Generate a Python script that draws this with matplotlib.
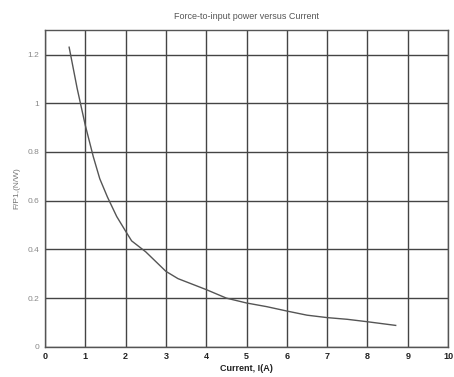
import matplotlib
matplotlib.use("Agg")
import matplotlib.pyplot as plt

# values
current = [0.6, 0.8, 1.0, 1.2, 1.36, 1.55, 1.78, 2.0, 2.15, 2.5, 3.0, 3.3, 4.0, 4.5, 5.0, 5.5,
           6.0, 6.5, 7.0, 7.5, 8.0, 8.7]
force_per_power = [1.23, 1.06, 0.91, 0.78, 0.69, 0.615, 0.535, 0.475, 0.435, 0.39, 0.31, 0.28,
                   0.235, 0.20, 0.18, 0.165, 0.147, 0.13, 0.12, 0.113, 0.103, 0.088]
x_ticks = list(range(0, 11))
y_ticks = [0, 0.2, 0.4, 0.6, 0.8, 1, 1.2]
y_tick_labels = ["0", "0.2", "0.4", "0.6", "0.8", "1", "1.2"]

plt.rcParams['font.family'] = ['Liberation Sans', 'DejaVu Sans']

fig = plt.figure(figsize=(4.54, 3.77), dpi=100)
ax = fig.add_axes([0.099, 0.080, 0.888, 0.840])

ax.plot(current, force_per_power, color='#555555', linewidth=1.0)

ax.set_xlim(0, 10)
ax.set_ylim(0, 1.3)
ax.set_xticks(x_ticks)
ax.set_xticklabels([str(t) for t in x_ticks], fontsize=6.5, fontweight='bold', color='#222222')
ax.set_yticks(y_ticks)
ax.set_yticklabels(y_tick_labels, fontsize=6, color='#888888')
ax.tick_params(length=0, pad=4)

ax.grid(True, color='#444444', linewidth=1.0)
for s in ax.spines.values():
    s.set_color('#555555')
    s.set_linewidth(1.0)

ax.set_title('Force-to-input power versus Current', fontsize=6.5, color='#555555', pad=8)
ax.set_xlabel('Current, I(A)', fontsize=6.5, fontweight='bold', color='#222222', labelpad=2)
ax.set_ylabel('F/P1,(N/W)', fontsize=6, color='#777777', labelpad=5)

fig.savefig('out.png', dpi=100)
